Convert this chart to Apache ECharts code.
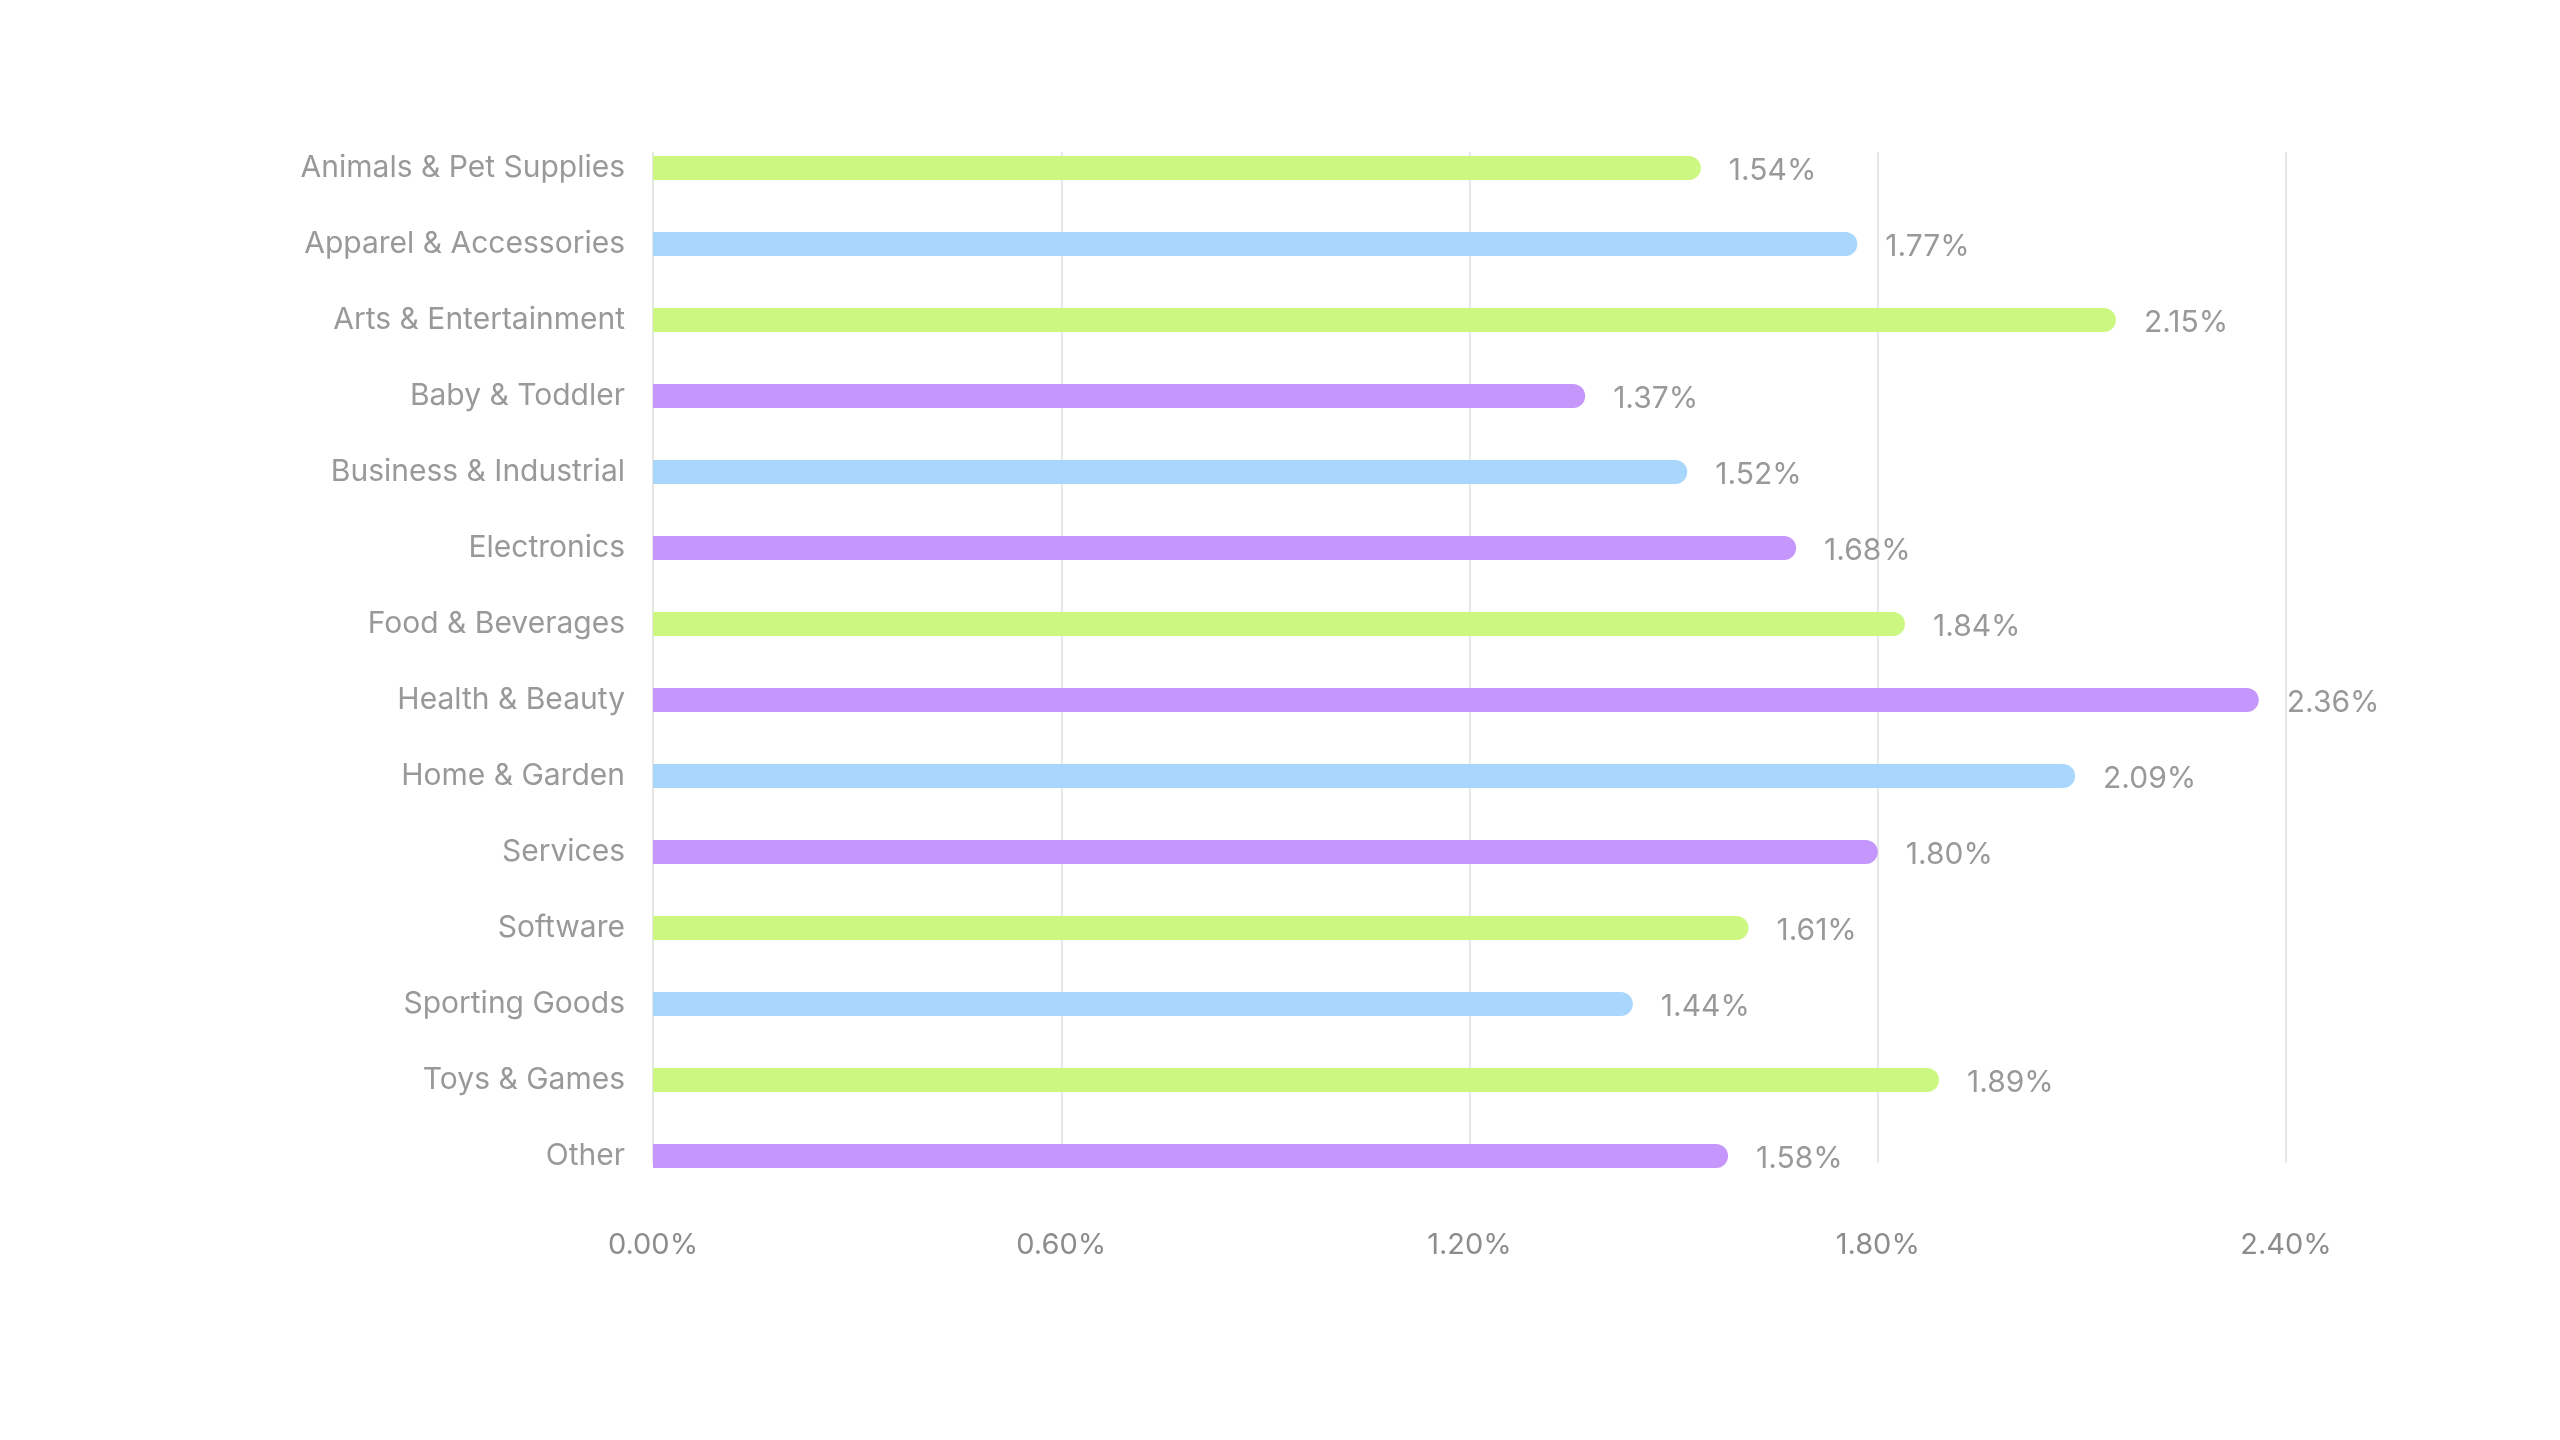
<!DOCTYPE html>
<html>
<head>
<meta charset="utf-8">
<script src="https://cdn.jsdelivr.net/npm/echarts@6/dist/echarts.min.js"></script>
<style>
html,body{margin:0;padding:0;background:#fff;}
#chart{width:2560px;height:1440px;}
</style>
</head>
<body>
<div id="chart"></div>
<script>
const categories = ["Animals & Pet Supplies","Apparel & Accessories","Arts & Entertainment","Baby & Toddler","Business & Industrial","Electronics","Food & Beverages","Health & Beauty","Home & Garden","Services","Software","Sporting Goods","Toys & Games","Other"];
const values = [1.54,1.77,2.15,1.37,1.52,1.68,1.84,2.36,2.09,1.80,1.61,1.44,1.89,1.58];
const colorGroups = ["green","blue","green","purple","blue","purple","green","purple","blue","purple","green","blue","green","purple"];
const palette = {green:"#ccf780", blue:"#a8d6fd", purple:"#c597fc"};
const xTicks = [0, 0.6, 1.2, 1.8, 2.4];

const FONT = "Inter";
const chart = echarts.init(document.getElementById('chart'));
chart.setOption({
  backgroundColor: '#ffffff',
  animation: false,
  textStyle: {fontFamily: FONT},
  grid: [
    {left: 653, right: 274, top: 130, bottom: 246, containLabel: false},
    {left: 653, right: 274, top: 152, bottom: 277, containLabel: false}
  ],
  xAxis: [
    {gridIndex: 0, type: 'value', min: xTicks[0], max: xTicks[xTicks.length-1], interval: 0.6,
     axisLine: {show: false}, axisTick: {show: false}, splitLine: {show: false}, axisLabel: {show: false}},
    {gridIndex: 1, type: 'value', min: xTicks[0], max: xTicks[xTicks.length-1], interval: 0.6,
     axisLine: {show: false}, axisTick: {show: false},
     splitLine: {show: true, lineStyle: {color: '#e6e6e6', width: 2}},
     axisLabel: {show: true, margin: 68, color: '#8c8c8c', fontSize: 29, fontFamily: FONT,
       formatter: v => v.toFixed(2) + '%'}}
  ],
  yAxis: [
    {gridIndex: 0, type: 'category', data: categories, inverse: true,
     axisLine: {show: false}, axisTick: {show: false},
     axisLabel: {margin: 28, color: '#999999', fontSize: 30, fontFamily: FONT, padding: [0, 0, 3, 0]}},
    {gridIndex: 1, type: 'category', data: categories, inverse: true, show: false}
  ],
  series: [{
    type: 'bar',
    xAxisIndex: 0, yAxisIndex: 0,
    barWidth: 24,
    data: values.map((v, i) => ({
      value: v,
      itemStyle: {color: palette[colorGroups[i]], borderRadius: [0, 12, 12, 0]}
    })),
    label: {show: true, position: 'right', distance: 28, offset: [0, 3], color: '#999999', fontSize: 30,
      fontFamily: FONT, formatter: p => p.value.toFixed(2) + '%'}
  }]
});
</script>
</body>
</html>
